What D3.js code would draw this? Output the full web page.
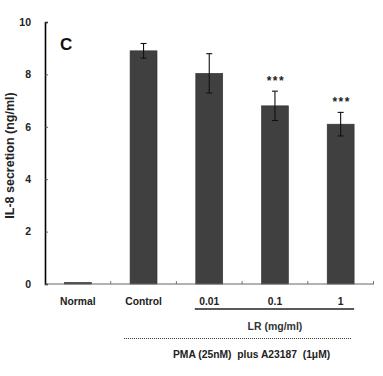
<!DOCTYPE html>
<html>
<head>
<meta charset="utf-8">
<script src="https://cdn.jsdelivr.net/npm/d3@7"></script>
<style>
  html, body { margin: 0; padding: 0; background: #fff; }
  svg { display: block; font-family: "Liberation Sans", Arial, sans-serif; }
</style>
</head>
<body>
<svg id="chart" width="383" height="376"></svg>
<script>
// ---- data ----
const categories = ["Normal", "Control", "0.01", "0.1", "1"];
const values = [0.06, 8.9, 8.04, 6.8, 6.1];
const errors = [0, 0.28, 0.75, 0.56, 0.45];
const significance = ["", "", "", "***", "***"];
const yTicks = [0, 2, 4, 6, 8, 10];
const panelLabel = "C";
const yLabel = "IL-8 secretion (ng/ml)";
const groupLabel = "LR (mg/ml)";
const groupCategories = ["0.01", "0.1", "1"];
const treatLabel = "PMA (25nM)  plus A23187  (1\u03bcM)";
const treatCategories = ["Control", "0.01", "0.1", "1"];

// ---- layout ----
const svg = d3.select("#chart");
const plotLeft = 45, plotRight = 373.5, plotTop = 22, plotBottom = 284;

const x = d3.scaleBand().domain(categories).range([plotLeft, plotRight])
  .paddingInner(0.59).paddingOuter(0.295);
const y = d3.scaleLinear().domain([0, 10]).range([plotBottom, plotTop]);
const step = x.step();

// bars
svg.append("g").selectAll("rect").data(categories).join("rect")
  .attr("x", d => x(d))
  .attr("width", x.bandwidth())
  .attr("y", (d, i) => y(values[i]))
  .attr("height", (d, i) => y(0) - y(values[i]))
  .attr("fill", "#404040")
  .attr("stroke", "#303030")
  .attr("stroke-width", 0.6);

// error bars
const eb = svg.append("g").attr("stroke", "#111").attr("stroke-width", 1.1);
categories.forEach((c, i) => {
  if (!errors[i]) return;
  const cx = x(c) + x.bandwidth() / 2;
  const t = y(values[i] + errors[i]), b = y(values[i] - errors[i]);
  eb.append("line").attr("x1", cx).attr("x2", cx).attr("y1", t).attr("y2", b);
  eb.append("line").attr("x1", cx - 3).attr("x2", cx + 3).attr("y1", t).attr("y2", t);
  eb.append("line").attr("x1", cx - 3).attr("x2", cx + 3).attr("y1", b).attr("y2", b);
});

// significance
svg.append("g").selectAll("text").data(categories).join("text")
  .attr("x", d => x(d) + x.bandwidth() / 2 + 1)
  .attr("y", (d, i) => y(values[i] + errors[i]) - 6.5)
  .attr("text-anchor", "middle")
  .attr("font-size", 12).attr("font-weight", "bold")
  .attr("letter-spacing", 1.5)
  .attr("fill", "#222")
  .text((d, i) => significance[i]);

// y axis
const yAxis = svg.append("g").attr("transform", `translate(${plotLeft},0)`)
  .call(d3.axisLeft(y).tickValues(yTicks).tickSize(-3).tickPadding(14).tickFormat(d3.format("d")));
yAxis.select(".domain").attr("stroke", "#000").attr("stroke-width", 1.6);
yAxis.selectAll(".tick line").attr("stroke", "#444").attr("stroke-width", 0.8);
yAxis.selectAll(".tick text").attr("font-size", 10.5).attr("font-weight", "bold")
  .attr("fill", "#222").attr("font-family", "Liberation Sans, Arial, sans-serif");

// x axis
const xAxis = svg.append("g").attr("transform", `translate(0,${plotBottom - 0.5})`)
  .call(d3.axisBottom(x).tickSize(0).tickPadding(14));
xAxis.select(".domain").attr("stroke", "#666").attr("stroke-width", 1);
xAxis.selectAll(".tick text").attr("font-size", 10.3).attr("font-weight", "bold")
  .attr("fill", "#222").attr("font-family", "Liberation Sans, Arial, sans-serif");
// boundary ticks (inward)
svg.append("g").selectAll("line").data(categories).join("line")
  .attr("x1", d => x(d) + x.bandwidth() / 2 + step / 2)
  .attr("x2", d => x(d) + x.bandwidth() / 2 + step / 2)
  .attr("y1", plotBottom - 3).attr("y2", plotBottom)
  .attr("stroke", "#555").attr("stroke-width", 0.8);

// panel label
svg.append("text").attr("x", 60).attr("y", 50)
  .attr("font-size", 17).attr("font-weight", "bold").attr("fill", "#111")
  .text(panelLabel);

// y label
svg.append("text")
  .attr("transform", `translate(13.5,155.5) rotate(-90)`)
  .attr("text-anchor", "middle")
  .attr("font-size", 12.5).attr("font-weight", "bold").attr("fill", "#222")
  .text(yLabel);

// group line (LR)
const g0 = x(groupCategories[0]), g1 = x(groupCategories[groupCategories.length - 1]) + x.bandwidth();
svg.append("line").attr("x1", g0 - 1).attr("x2", g1).attr("y1", 309).attr("y2", 309)
  .attr("stroke", "#222").attr("stroke-width", 1.3);
svg.append("text").attr("x", (x(groupCategories[1]) + x.bandwidth() / 2))
  .attr("y", 329.5).attr("text-anchor", "middle")
  .attr("font-size", 10.5).attr("font-weight", "bold").attr("fill", "#333")
  .text(groupLabel);

// treatment dotted line
const t0 = x(treatCategories[0]) - 6, t1 = x(treatCategories[treatCategories.length - 1]) + x.bandwidth() - 2;
svg.append("line").attr("x1", t0).attr("x2", t1).attr("y1", 338.5).attr("y2", 338.5)
  .attr("stroke", "#333").attr("stroke-width", 1).attr("stroke-dasharray", "1,1");
svg.append("text").attr("x", 173).attr("y", 358)
  .style("white-space", "pre")
  .attr("font-size", 10.3).attr("font-weight", "bold").attr("fill", "#222")
  .text(treatLabel);
</script>
</body>
</html>
